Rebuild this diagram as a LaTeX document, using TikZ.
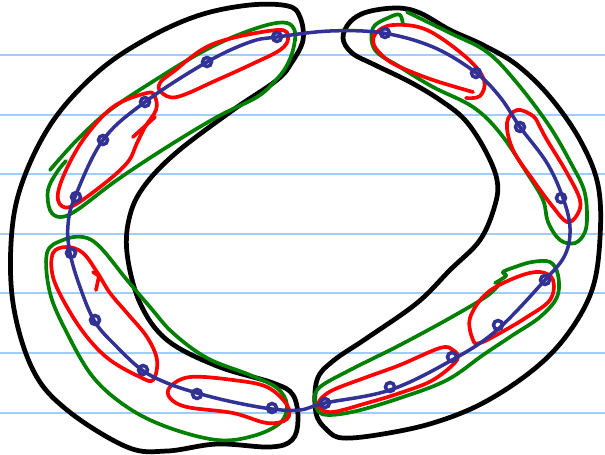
\documentclass[tikz,border=0pt]{standalone}
\usepackage{tikz}
\usetikzlibrary{calc}

\definecolor{paperline}{RGB}{160,205,250}
\definecolor{penblue}{RGB}{50,50,150}
\definecolor{pengreen}{RGB}{0,128,0}
\definecolor{penred}{RGB}{255,0,0}

\tikzset{
  ruled/.style={paperline, line width=0.9pt},
  half/.style={black, line width=2.7pt, line join=round, line cap=round},
  quad/.style={pengreen, line width=2.1pt, line join=round, line cap=round},
  pair/.style={penred, line width=2.1pt, line join=round, line cap=round},
  ring/.style={penblue, line width=2.0pt, line join=round, line cap=round},
  bead/.style={penblue, line width=2.0pt}
}

\begin{document}
\begin{tikzpicture}[x=0.02cm, y=-0.02cm]
  \useasboundingbox (0,0) rectangle (605,454);

  % ruled paper
  \foreach \y in {55,115,174,234,293,353,413} {
    \draw[ruled] (0,\y) -- (605,\y);
  }

  % left half
  \draw[half] plot[smooth cycle, tension=0.6] coordinates {
    (300,17) (288,6) (250,5) (200,15) (150,37) (100,70) (55,118) (25,175)
    (12,230) (13,303) (33,370) (67,410) (127,447) (167,451) (217,444)
    (270,447) (292,440) (298,420) (293,395) (273,383) (217,366) (167,340)
    (140,303) (127,253) (130,215) (145,185) (177,152) (233,110) (277,80)
    (292,62) (303,40)};

  % right half
  \draw[half] plot[smooth cycle, tension=0.6] coordinates {
    (343,38) (350,22) (367,12) (397,8) (420,13) (450,30) (483,45) (517,65)
    (550,97) (580,140) (598,185) (600,238) (592,290) (567,335) (533,370)
    (483,403) (433,423) (383,434) (343,438) (327,430) (316,413) (317,380)
    (333,361) (367,338) (417,303) (450,270) (480,240) (495,205) (497,180)
    (485,150) (465,120) (440,100) (410,82) (375,65) (352,53)};

  % groups of four
  \draw[quad] plot[smooth, tension=0.6] coordinates {
    (50,170) (77,140) (110,110) (160,77) (200,53) (233,37) (267,25) (287,23)
    (295,32) (293,50) (286,67) (275,81) (257,97) (217,117) (167,147)
    (117,180) (77,210) (60,217) (50,210) (48,190) (57,172) (66,161)};
  \draw[quad] plot[smooth, tension=0.6] coordinates {
    (403,25) (400,15) (390,17) (373,28) (375,50) (400,67) (433,87) (473,107)
    (500,133) (527,173) (543,200) (548,222) (560,240) (575,243) (585,232)
    (587,213) (584,190) (573,167) (550,127) (517,83) (487,52) (450,33)
    (407,12)};
  \draw[quad] plot[smooth, tension=0.6] coordinates {
    (495,283) (506,276) (503,272) (515,267) (532,262) (550,262) (558,275)
    (557,297) (540,317) (513,335) (483,355) (447,380) (400,398) (352,412)
    (322,414) (315,400) (320,387) (350,370) (400,345) (450,318) (487,296)
    (500,283)};
  \draw[quad] plot[smooth cycle, tension=0.6] coordinates {
    (47,253) (63,240) (83,237) (100,247) (127,280) (150,307) (173,333)
    (207,358) (250,375) (277,388) (287,405) (280,423) (253,436) (217,440)
    (167,427) (127,407) (93,377) (67,333) (50,293)};

  % pairs
  \draw[pair] plot[smooth cycle, tension=0.6] coordinates {
    (160,83) (173,72) (213,44) (277,30) (288,38) (280,50) (250,65) (217,80)
    (177,97) (161,92)};
  \draw[pair] plot[smooth cycle, tension=0.6] coordinates {
    (147,93) (113,107) (83,140) (63,177) (58,200) (70,207) (100,187)
    (127,163) (137,143) (145,127) (156,110) (155,97)};
  \draw[pair] (133,137) -- (155,117);
  \draw[pair] plot[smooth, tension=0.6] coordinates {
    (466,98) (480,96) (484,80) (467,58) (427,30) (393,25) (376,33) (374,45)
    (385,58) (400,67) (433,80) (473,92)};
  \draw[pair] plot[smooth cycle, tension=0.6] coordinates {
    (540,127) (533,116) (517,110) (507,123) (513,150) (533,180) (553,207)
    (567,222) (577,215) (580,200) (567,173) (547,140)};
  \draw[pair] plot[smooth cycle, tension=0.6] coordinates {
    (53,253) (67,247) (83,253) (97,272) (110,293) (127,313) (147,337)
    (157,360) (153,380) (140,377) (110,360) (87,337) (67,307) (53,277)};
  \draw[pair] (93,272) -- (99,276) -- (96,290);
  \draw[pair] plot[smooth cycle, tension=0.6] coordinates {
    (170,387) (190,377) (233,380) (267,387) (287,405) (287,419) (267,423)
    (233,413) (187,407) (170,398)};
  \draw[pair] plot[smooth cycle, tension=0.6] coordinates {
    (320,400) (333,390) (367,377) (400,365) (440,348) (453,350) (457,360)
    (433,380) (400,393) (367,403) (333,412) (320,408)};
  \draw[pair] plot[smooth cycle, tension=0.6] coordinates {
    (473,340) (470,318) (487,293) (517,277) (540,272) (553,280) (550,300)
    (527,317) (500,333) (480,343)};

  % the ring through all points
  \draw[ring] plot[smooth cycle, tension=0.6] coordinates {
    (330,31) (383,33) (433,47) (475,72) (500,97) (520,127) (547,163)
    (563,198) (570,228) (565,255) (545,280) (497,330) (452,360) (390,390)
    (325,403) (300,410) (272,409) (233,402) (197,393) (167,383) (142,370)
    (117,347) (95,322) (80,287) (70,253) (68,225) (75,197) (103,140)
    (145,102) (207,62) (250,42) (277,37)};

  % points on the ring
  \foreach \px/\py [count=\k] in {385/33, 476/73, 520/127, 561/198, 545/280,
      498/325, 452/357, 390/387, 325/403, 272/408, 197/394, 143/370, 95/320,
      71/253, 76/197, 103/140, 145/102, 207/62, 277/37} {
    \coordinate (p\k) at (\px,\py);
    \draw[bead] (p\k) circle[radius=4.5];
  }
\end{tikzpicture}
\end{document}
